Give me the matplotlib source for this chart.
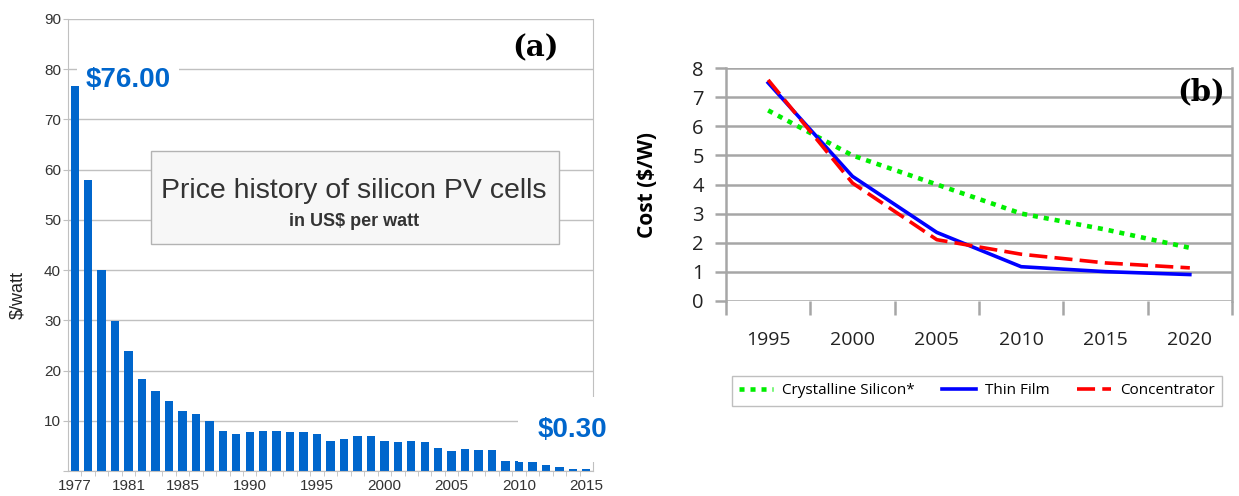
import matplotlib.pyplot as plt
from matplotlib.patches import Rectangle

# (a) price history, US$ per watt
years = list(range(1977, 2016))
prices = [76.7, 58.0, 40.0, 29.8, 23.9, 18.3, 16.0, 13.9, 12.0, 11.3,
          9.9, 8.0, 7.3, 7.8, 8.0, 8.0, 7.8, 7.8, 7.3, 5.9,
          6.4, 6.9, 6.9, 5.9, 5.7, 5.9, 5.7, 4.5, 3.9, 4.3,
          4.1, 4.1, 1.9, 1.9, 1.7, 1.2, 0.7, 0.4, 0.3]
label_years = [1977, 1981, 1985, 1990, 1995, 2000, 2005, 2010, 2015]

# (b) cost projections, $/W
periods = ['1995', '2000', '2005', '2010', '2015', '2020']
crystalline = [6.55, 5.0, 4.0, 3.0, 2.45, 1.82]
thin_film = [7.5, 4.28, 2.35, 1.17, 1.0, 0.9]
concentrator = [7.6, 4.05, 2.1, 1.6, 1.3, 1.13]

blue = '#0066cc'
grey_a = '#c0c0c0'
grey_b = '#a6a6a6'

fig = plt.figure(figsize=(12.39, 4.96), dpi=100)

# ---------- left panel ----------
ax = fig.add_axes([68/1239, 1-471/496, 525/1239, 452/496])
ax.set_axisbelow(True)
ax.bar(years, prices, width=0.62, color=blue, zorder=2)
ax.set_xlim(1976.5, 2015.5)
ax.set_ylim(0, 90)
ax.set_yticks(range(0, 91, 10))
ax.set_yticklabels([''] + [str(v) for v in range(10, 91, 10)])
ax.set_xticks(label_years)
ax.set_xticks([y + 0.5 for y in years[:-1]], minor=True)
ax.tick_params(axis='x', which='major', length=0, pad=6)
ax.tick_params(axis='x', which='minor', length=3.5, color=grey_a)
ax.tick_params(axis='y', length=3.5, color=grey_a, pad=1.5)
ax.tick_params(labelsize=11, labelcolor='#333333')
for lab in ax.get_xticklabels() + ax.get_yticklabels():
    lab.set_family('Liberation Sans')
ax.grid(axis='y', color=grey_a, lw=1)
for s in ['left', 'bottom', 'right']:
    ax.spines[s].set_color(grey_a)
ax.spines['top'].set_visible(False)
ax.set_ylabel('\\$/watt', fontsize=13, family='Liberation Sans', color='#222222')
ax.yaxis.set_label_coords(-0.08, 0.39)

ax.text(1977.8, 77.9, '\\$76.00', fontsize=20, fontweight='bold', color=blue,
        family='Liberation Sans', va='center', ha='left', zorder=1.5,
        bbox=dict(boxstyle='square,pad=0.3', fc='white', ec='none'))
ax.text(2011.4, 8.2, '\\$0.30', fontsize=20, fontweight='bold', color=blue,
        family='Liberation Sans', va='center', ha='left', clip_on=False,
        bbox=dict(boxstyle='square,pad=0.7', fc='white', ec='none'))

ax.add_patch(Rectangle((0.158, 0.502), 0.777, 0.206, transform=ax.transAxes,
                       fc='#f7f7f7', ec='#b3b3b3', lw=1, zorder=3))
ax.text(0.545, 0.619, 'Price history of silicon PV cells', transform=ax.transAxes,
        fontsize=20.5, color='#333333', family='Liberation Sans',
        ha='center', va='center', zorder=4)
ax.text(0.545, 0.553, 'in US\\$ per watt', transform=ax.transAxes,
        fontsize=13, fontweight='bold', color='#333333', family='Liberation Sans',
        ha='center', va='center', zorder=4)
ax.text(0.89, 0.936, '(a)', transform=ax.transAxes, fontsize=21,
        fontweight='bold', family='DejaVu Serif', ha='center', va='center')

# ---------- right panel ----------
bx = fig.add_axes([726/1239, 1-300.7/496, 506/1239, 232.4/496])
bx.set_axisbelow(True)
x = list(range(len(periods)))
l1, = bx.plot(x, crystalline, color='#00ee00', lw=3.3, ls=(0, (1.1, 1.3)),
              label='Crystalline Silicon*')
l2, = bx.plot(x, thin_film, color='#0000ff', lw=2.6, label='Thin Film')
l3, = bx.plot(x, concentrator, color='#ff0000', lw=2.6, ls=(0, (5, 2)),
              label='Concentrator')
bx.set_xlim(-0.5, 5.5)
bx.set_ylim(0, 8)
bx.set_yticks(range(0, 9))
bx.set_xticks([i - 0.5 for i in range(7)])
bx.set_xticklabels([])
bx.set_xticks(x, minor=True)
bx.set_xticklabels(periods, minor=True, fontsize=14, family='Open Sans', color='#222222')
bx.tick_params(axis='x', which='major', length=10, width=1.8, color=grey_b)
bx.tick_params(axis='x', which='minor', length=0, pad=22)
bx.tick_params(axis='y', length=8, width=1.8, color=grey_b, pad=8,
               labelsize=14.5, labelcolor='#222222')
for lab in bx.get_yticklabels():
    lab.set_family('Open Sans')
bx.grid(axis='y', color=grey_b, lw=1.8)
bx.spines['top'].set_visible(False)
bx.spines['bottom'].set_visible(False)
for s in ['left', 'right']:
    bx.spines[s].set_color(grey_b)
    bx.spines[s].set_linewidth(1.8)
bx.set_ylabel('Cost (\\$/W)', fontsize=15, fontweight='bold', family='Open Sans')
bx.yaxis.set_label_coords(-0.134, 0.5)
bx.text(0.939, 0.898, '(b)', transform=bx.transAxes, fontsize=21,
        fontweight='bold', family='DejaVu Serif', ha='center', va='center')

leg = fig.legend(handles=[l1, l2, l3], loc='center', ncol=3,
                 bbox_to_anchor=(977/1239, 1-391/496),
                 prop={'family': 'Open Sans', 'size': 11},
                 frameon=True, fancybox=False, edgecolor='#b0b0b0',
                 handlelength=2.2, columnspacing=1.8, handletextpad=0.6,
                 borderpad=0.5)
leg.get_frame().set_linewidth(1)

fig.savefig('out.png', dpi=100)
